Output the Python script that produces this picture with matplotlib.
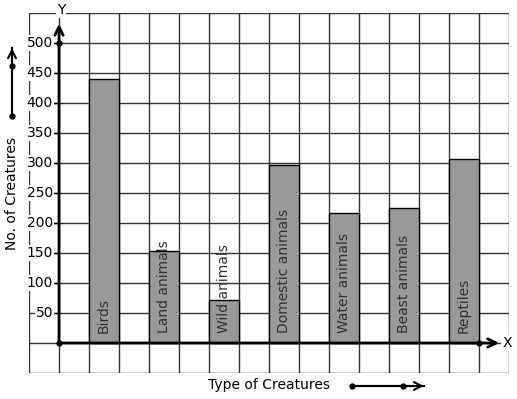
import matplotlib
matplotlib.use("Agg")
import matplotlib.pyplot as plt
from matplotlib.lines import Line2D

categories = ["Birds", "Land animals", "Wild animals", "Domestic animals",
              "Water animals", "Beast animals", "Reptiles"]
values = [440, 153, 72, 297, 217, 225, 307]
yticks = [50, 100, 150, 200, 250, 300, 350, 400, 450, 500]
ytick_labels = [str(v) for v in yticks]

W, H = 517, 399
fig = plt.figure(figsize=(W / 100, H / 100), dpi=100)
ax = fig.add_axes([29 / W, (H - 373) / H, 480 / W, 360 / H])
ax.set_xlim(-1, 15)
ax.set_ylim(-50, 550)
ax.axis("off")

grid_c = "#333333"
for x in range(-1, 16):
    ax.axvline(x, color=grid_c, lw=1.0, zorder=1)
for y in range(-50, 551, 50):
    ax.axhline(y, color=grid_c, lw=1.0, zorder=1)

positions = [1.5 + 2 * i for i in range(len(categories))]
ax.bar(positions, values, width=1.0, color="#999999", edgecolor="black",
       linewidth=1.0, zorder=2)
for x, name in zip(positions, categories):
    ax.text(x, 17, name, rotation=90, ha="center", va="bottom",
            fontsize=10, color="#333333", zorder=3)

# axes
ax.annotate("", xy=(0, 532), xytext=(0, 0),
            arrowprops=dict(arrowstyle="->", color="black", lw=2,
                            mutation_scale=15, shrinkA=0, shrinkB=0),
            zorder=4)
ax.annotate("", xy=(14.67, 0), xytext=(0, 0),
            arrowprops=dict(arrowstyle="->", color="black", lw=2,
                            mutation_scale=15, shrinkA=0, shrinkB=0),
            zorder=4)
ax.plot([0, 0, 14], [0, 500, 0], "o", color="black", ms=3.5, zorder=5,
        linestyle="none")

for v, lab in zip(yticks, ytick_labels):
    ax.plot([-0.2, 0], [v, v], color="black", lw=1, zorder=3)
    ax.text(-0.2, v, lab, ha="right", va="center", fontsize=10,
            color="black", zorder=3,
            bbox=dict(facecolor="white", edgecolor="none", pad=0.5))

ax.text(0.07, 555, "Y", ha="center", va="center", fontsize=10, zorder=3,
        bbox=dict(facecolor="white", edgecolor="none", pad=0.5), clip_on=False)
ax.text(14.93, 0, "X", ha="center", va="center", fontsize=10, zorder=3,
        bbox=dict(facecolor="white", edgecolor="none", pad=0.5))

# outer labels
fig.text(12 / W, (H - 193) / H, "No. of Creatures", rotation=90,
         ha="center", va="center", fontsize=10)
fig.text(269.5 / W, (H - 385) / H, "Type of Creatures",
         ha="center", va="center", fontsize=10)

def fig_arrow(x0, y0, x1, y1, dots):
    fig.add_artist(Line2D([x0 / W, x1 / W], [(H - y0) / H, (H - y1) / H],
                          transform=fig.transFigure, color="black", lw=1.5))
    ax.annotate("", xy=(x1, H - y1), xytext=(x0, H - y0),
                xycoords="figure pixels", textcoords="figure pixels",
                arrowprops=dict(arrowstyle="->", color="black", lw=1.5,
                                mutation_scale=14, shrinkA=0, shrinkB=0),
                annotation_clip=False)
    for (dx, dy) in dots:
        fig.add_artist(Line2D([dx / W], [(H - dy) / H], transform=fig.transFigure,
                              marker="o", color="black", ms=3.5))

fig_arrow(12, 116, 12, 48, [(12, 116), (12, 66)])
fig_arrow(352, 386, 424, 386, [(352, 386), (403, 386)])

fig.savefig("out.png", dpi=100, facecolor="white")
